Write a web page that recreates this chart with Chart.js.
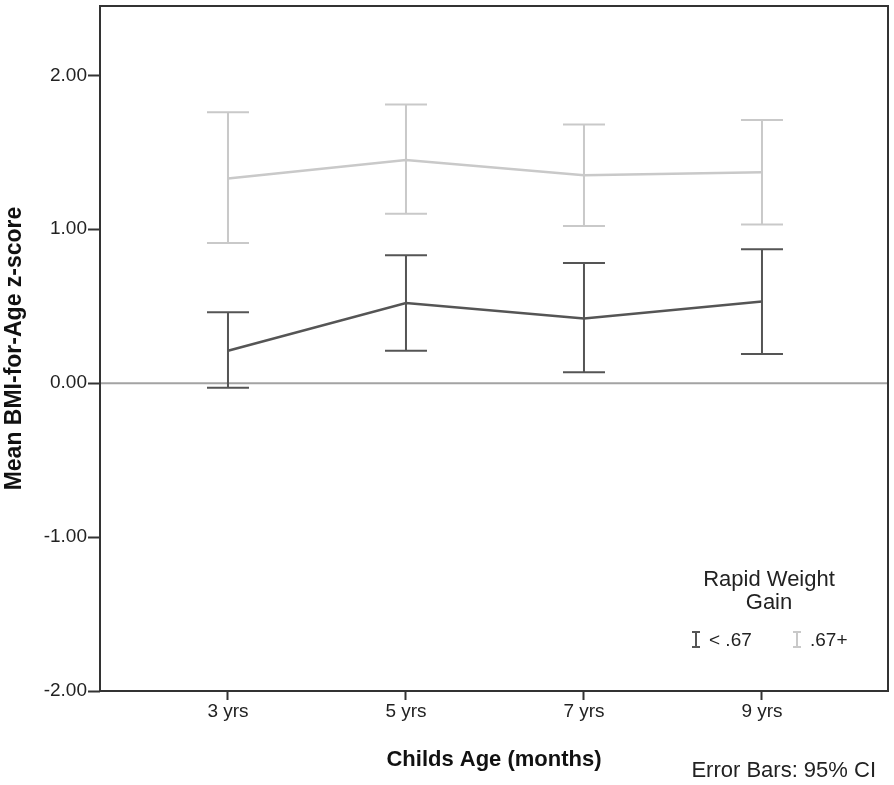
<!DOCTYPE html>
<html>
<head>
<meta charset="utf-8">
<title>Mean BMI-for-Age z-score</title>
<script src="https://cdn.jsdelivr.net/npm/chart.js@4.4.1/dist/chart.umd.min.js"></script>
<style>
  html, body { margin: 0; padding: 0; background: #fff; }
  #wrap { width: 894px; height: 785px; }
</style>
</head>
<body>
<div id="wrap"><canvas id="chart" width="894" height="785"></canvas></div>
<script>
// datos
const ages = ['3 yrs', '5 yrs', '7 yrs', '9 yrs'];
const yTicks = [-2, -1, 0, 1, 2];

// grupo < .67
const lowMean  = [0.21, 0.52, 0.42, 0.53];
const lowUpper = [0.46, 0.83, 0.78, 0.87];
const lowLower = [-0.03, 0.21, 0.07, 0.19];

// grupo .67+
const highMean  = [1.33, 1.45, 1.35, 1.37];
const highUpper = [1.76, 1.81, 1.68, 1.71];
const highLower = [0.91, 1.10, 1.02, 1.03];

const groupLabels = ['< .67', '.67+'];
const darkColor = '#555555';
const lightColor = '#c9c9c9';
const FONT = '"Liberation Sans", Arial, sans-serif';

const toPoints = (arr) => arr.map((v, i) => ({ x: i, y: v }));

// Plugin para barras de error, linea cero, marco y leyenda
const extras = {
    id: 'extras',
    beforeDatasetsDraw(chart) {
        const { ctx, chartArea: a, scales: { y } } = chart;
        const y0 = y.getPixelForValue(0);
        ctx.save();
        ctx.strokeStyle = '#a3a3a3';
        ctx.lineWidth = 2;
        ctx.beginPath();
        ctx.moveTo(a.left, y0);
        ctx.lineTo(a.right, y0);
        ctx.stroke();
        ctx.restore();
    },
    afterDatasetsDraw(chart) {
        const { ctx, scales: { x, y } } = chart;
        const bars = [
            { lo: highLower, hi: highUpper, color: lightColor },
            { lo: lowLower, hi: lowUpper, color: darkColor }
        ];
        const half = 21;
        ctx.save();
        ctx.lineWidth = 2;
        bars.forEach(b => {
            ctx.strokeStyle = b.color;
            b.lo.forEach((lo, i) => {
                const px = x.getPixelForValue(i);
                const yl = y.getPixelForValue(lo);
                const yh = y.getPixelForValue(b.hi[i]);
                ctx.beginPath();
                ctx.moveTo(px, yl); ctx.lineTo(px, yh);
                ctx.moveTo(px - half, yl); ctx.lineTo(px + half, yl);
                ctx.moveTo(px - half, yh); ctx.lineTo(px + half, yh);
                ctx.stroke();
            });
        });
        ctx.restore();
    },
    afterDraw(chart) {
        const { ctx, chartArea: a } = chart;
        ctx.save();
        // marco del area
        ctx.strokeStyle = '#333';
        ctx.lineWidth = 2;
        ctx.strokeRect(a.left, a.top, a.right - a.left, a.bottom - a.top);

        // leyenda
        ctx.fillStyle = '#222';
        ctx.textAlign = 'center';
        ctx.textBaseline = 'middle';
        ctx.font = '22px ' + FONT;
        ctx.fillText('Rapid Weight', 769, 580);
        ctx.fillText('Gain', 769, 603);

        const icon = (cx, color) => {
            ctx.strokeStyle = color;
            ctx.lineWidth = 2;
            ctx.beginPath();
            ctx.moveTo(cx, 632); ctx.lineTo(cx, 647);
            ctx.moveTo(cx - 4, 632); ctx.lineTo(cx + 4, 632);
            ctx.moveTo(cx - 4, 647); ctx.lineTo(cx + 4, 647);
            ctx.stroke();
        };
        icon(696, darkColor);
        icon(797, lightColor);
        ctx.textAlign = 'left';
        ctx.font = '19px ' + FONT;
        ctx.fillText(groupLabels[0], 709, 641);
        ctx.fillText(groupLabels[1], 810, 641);

        // nota de barras de error
        ctx.textAlign = 'right';
        ctx.font = '22px ' + FONT;
        ctx.fillText('Error Bars: 95% CI', 876, 771);
        ctx.restore();
    }
};

new Chart(document.getElementById('chart'), {
    type: 'line',
    data: {
        datasets: [
            {
                label: groupLabels[1],
                data: toPoints(highMean),
                borderColor: lightColor,
                borderWidth: 2.5,
                pointRadius: 0,
                tension: 0
            },
            {
                label: groupLabels[0],
                data: toPoints(lowMean),
                borderColor: darkColor,
                borderWidth: 2.5,
                pointRadius: 0,
                tension: 0
            }
        ]
    },
    options: {
        responsive: false,
        animation: false,
        layout: { padding: { top: 6, right: 6, left: 0, bottom: 0 } },
        plugins: {
            legend: { display: false },
            tooltip: { enabled: false }
        },
        scales: {
            x: {
                type: 'linear',
                min: -0.719,
                max: 3.708,
                afterBuildTicks: (s) => { s.ticks = ages.map((_, i) => ({ value: i })); },
                afterFit: (s) => { s.height = 94; s.paddingLeft = 0; s.paddingRight = 0; },
                ticks: {
                    callback: (v) => ages[v],
                    color: '#222',
                    font: { family: FONT, size: 19 },
                    padding: 0,
                    maxRotation: 0,
                    autoSkip: false
                },
                grid: {
                    drawOnChartArea: false,
                    drawTicks: true,
                    tickLength: 9,
                    tickColor: '#333',
                    tickWidth: 2
                },
                border: { display: false },
                title: {
                    display: true,
                    text: 'Childs Age (months)',
                    color: '#111',
                    font: { family: FONT, size: 22, weight: 'bold' },
                    padding: { top: 0, bottom: 12 }
                }
            },
            y: {
                min: -2,
                max: 2.45,
                afterBuildTicks: (s) => { s.ticks = yTicks.map(v => ({ value: v })); },
                afterFit: (s) => { s.width = 100; s.paddingTop = 0; s.paddingBottom = 0; },
                ticks: {
                    callback: (v) => v.toFixed(2),
                    color: '#222',
                    font: { family: FONT, size: 19 },
                    padding: 1
                },
                grid: {
                    drawOnChartArea: false,
                    drawTicks: true,
                    tickLength: 12,
                    tickColor: '#333',
                    tickWidth: 2
                },
                border: { display: false },
                title: {
                    display: true,
                    text: 'Mean BMI-for-Age z-score',
                    color: '#111',
                    font: { family: FONT, size: 23, weight: 'bold' },
                    padding: { top: 1, bottom: 0 }
                }
            }
        }
    },
    plugins: [extras]
});
</script>
</body>
</html>
